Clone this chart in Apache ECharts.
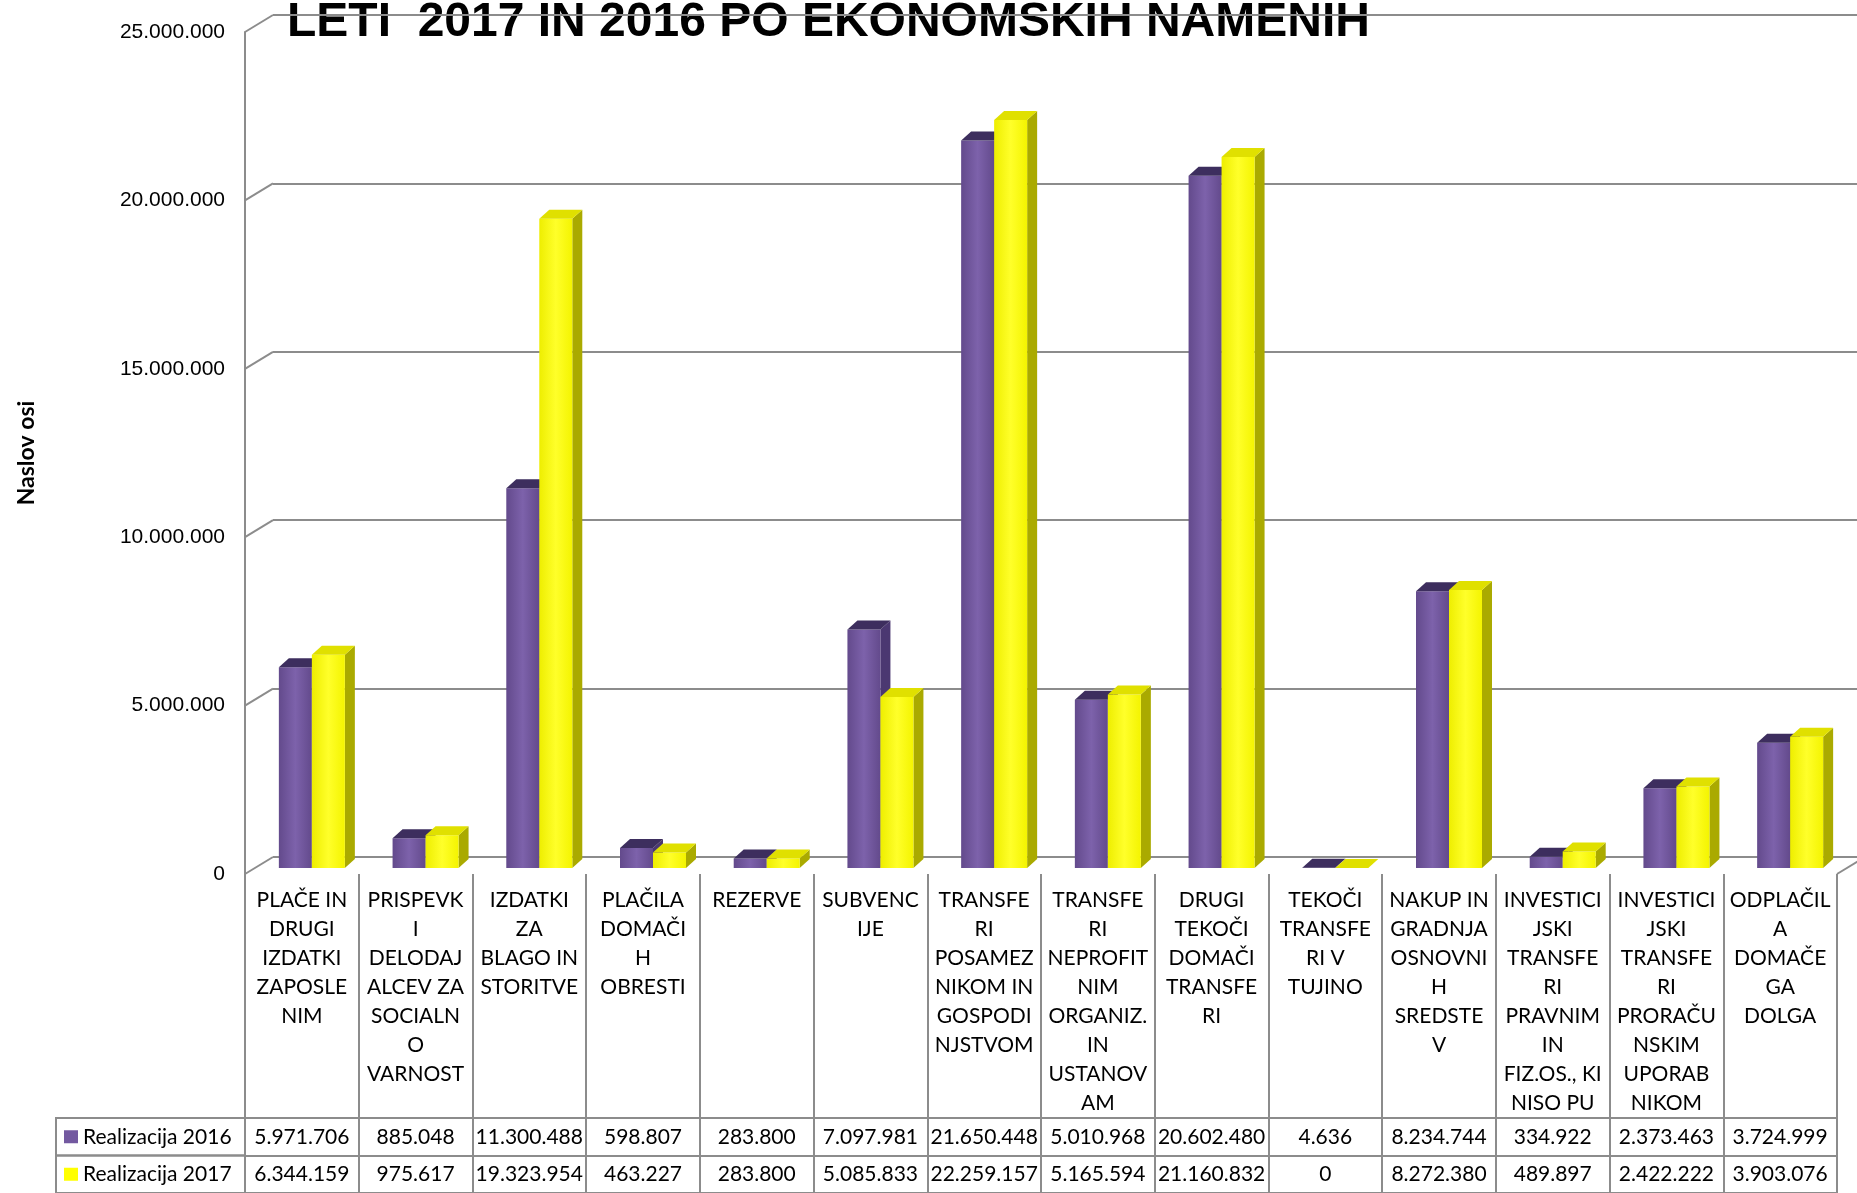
<!DOCTYPE html>
<html>
<head>
<meta charset="utf-8">
<title>Realizacija 2016 / 2017</title>
<script src="https://cdn.jsdelivr.net/npm/echarts@6/dist/echarts.min.js"></script>
<style>
    html, body { margin: 0; padding: 0; background: #fff; }
    #chart { width: 1857px; height: 1193px; }
</style>
</head>
<body>
<div id="chart"></div>
<script>
// podatki
const categories = [
    'PLAČE IN\nDRUGI\nIZDATKI\nZAPOSLE\nNIM',
    'PRISPEVK\nI\nDELODAJ\nALCEV ZA\nSOCIALN\nO\nVARNOST',
    'IZDATKI\nZA\nBLAGO IN\nSTORITVE',
    'PLAČILA\nDOMAČI\nH\nOBRESTI',
    'REZERVE',
    'SUBVENC\nIJE',
    'TRANSFE\nRI\nPOSAMEZ\nNIKOM IN\nGOSPODI\nNJSTVOM',
    'TRANSFE\nRI\nNEPROFIT\nNIM\nORGANIZ.\nIN\nUSTANOV\nAM',
    'DRUGI\nTEKOČI\nDOMAČI\nTRANSFE\nRI',
    'TEKOČI\nTRANSFE\nRI V\nTUJINO',
    'NAKUP IN\nGRADNJA\nOSNOVNI\nH\nSREDSTE\nV',
    'INVESTICI\nJSKI\nTRANSFE\nRI\nPRAVNIM\nIN\nFIZ.OS., KI\nNISO PU',
    'INVESTICI\nJSKI\nTRANSFE\nRI\nPRORAČU\nNSKIM\nUPORAB\nNIKOM',
    'ODPLAČIL\nA\nDOMAČE\nGA\nDOLGA'
];
const seriesNames = ['Realizacija 2016', 'Realizacija 2017'];
const real2016 = [5971706, 885048, 11300488, 598807, 283800, 7097981, 21650448, 5010968, 20602480, 4636, 8234744, 334922, 2373463, 3724999];
const real2017 = [6344159, 975617, 19323954, 463227, 283800, 5085833, 22259157, 5165594, 21160832, 0, 8272380, 489897, 2422222, 3903076];
const yMin = 0;
const yMax = 25000000;
const yStep = 5000000;
const yTicks = [0, 5000000, 10000000, 15000000, 20000000, 25000000];

const GRAY = '#8c8c8c';
const TXT = 'Lato';
const BAR_W = 33;
const DX = 10, DY = -9;          // globina stolpca
const WALL_X = 28, WALL_Y = 17;  // globina stene

const COLORS = [
    { front: ['#634a8c', '#7d62ab', '#634a8c'], side: '#4b3871', top: '#3d2e5e' },
    { front: ['#eeee00', '#ffff2a', '#f4f400'], side: '#aaaa00', top: '#e0e000' }
];

const fmt = v => String(v).replace(/\B(?=(\d{3})+(?!\d))/g, '.');

const myChart = echarts.init(document.getElementById('chart'), null, { renderer: 'canvas' });

function renderBar(s) {
    return function (params, api) {
        const i = api.value(0);
        const top = api.coord([i, api.value(1)]);
        const base = api.coord([i, 0]);
        const x0 = top[0] + (s - 1) * BAR_W;
        const x1 = x0 + BAR_W;
        const c = COLORS[s];
        return {
            type: 'group',
            children: [
                {
                    type: 'polygon',
                    shape: { points: [[x1, top[1]], [x1 + DX, top[1] + DY], [x1 + DX, base[1] + DY], [x1, base[1]]] },
                    style: { fill: c.side }
                },
                {
                    type: 'rect',
                    shape: { x: x0, y: top[1], width: BAR_W, height: base[1] - top[1] },
                    style: {
                        fill: new echarts.graphic.LinearGradient(0, 0, 1, 0, [
                            { offset: 0, color: c.front[0] },
                            { offset: 0.5, color: c.front[1] },
                            { offset: 1, color: c.front[2] }
                        ])
                    }
                },
                {
                    type: 'polygon',
                    shape: { points: [[x0, top[1]], [x1, top[1]], [x1 + DX, top[1] + DY], [x0 + DX, top[1] + DY]] },
                    style: { fill: c.top }
                }
            ]
        };
    };
}

const cellData = [];
real2016.forEach((v, i) => cellData.push([i, 0, v]));
real2017.forEach((v, i) => cellData.push([i, 1, v]));

let option = {
    backgroundColor: '#fff',
    animation: false,
    title: {
        text: 'LETI  2017 IN 2016 PO EKONOMSKIH NAMENIH',
        left: 282,
        top: -6,
        z: 0,
        textStyle: { fontFamily: 'Liberation Sans', fontWeight: 'bold', fontSize: 48, color: '#000' }
    },
    grid: [
        { left: 255, width: 1592, top: 28, height: 840 },   // stolpci
        { left: 245, width: 1592, top: 874, height: 244 },  // imena kategorij
        { left: 245, width: 1592, top: 1118, height: 78 },  // vrednosti
        { left: 273, right: 0, top: 15, height: 842 },      // zadnja stena
        { left: 245, width: 10, top: 32, height: 842 }      // sprednja os
    ],
    xAxis: [
        { gridIndex: 0, type: 'category', data: categories, show: false },
        {
            gridIndex: 1,
            type: 'category',
            data: categories,
            position: 'top',
            axisLine: { show: true, lineStyle: { color: GRAY, width: 2 } },
            axisTick: { show: false },
            axisLabel: {
                inside: true,
                interval: 0,
                margin: 12,
                verticalAlign: 'top',
                lineHeight: 29,
                fontFamily: TXT,
                fontSize: 21,
                color: '#000'
            },
            splitLine: { show: true, interval: 0, lineStyle: { color: GRAY, width: 2 } }
        },
        {
            gridIndex: 2,
            type: 'category',
            data: categories,
            axisLine: { show: false },
            axisTick: { show: false },
            axisLabel: { show: false },
            splitLine: { show: true, interval: 0, lineStyle: { color: GRAY, width: 2 } }
        },
        { gridIndex: 3, type: 'value', min: 0, max: 1, show: false },
        { gridIndex: 4, type: 'value', min: 0, max: 1, show: false }
    ],
    yAxis: [
        { gridIndex: 0, type: 'value', min: yMin, max: yMax, show: false },
        { gridIndex: 1, type: 'value', min: 0, max: 1, show: false },
        {
            gridIndex: 2,
            type: 'category',
            data: seriesNames,
            inverse: true,
            axisLine: { show: false },
            axisTick: { show: false },
            axisLabel: { show: false },
            splitLine: { show: true, lineStyle: { color: GRAY, width: 2 } }
        },
        {
            gridIndex: 3,
            type: 'value',
            min: yMin,
            max: yMax,
            interval: yStep,
            z: 1,
            axisLine: { show: false },
            axisTick: { show: false },
            axisLabel: { show: false },
            splitLine: { show: true, lineStyle: { color: GRAY, width: 2 } }
        },
        {
            gridIndex: 4,
            type: 'value',
            min: yMin,
            max: yMax,
            interval: yStep,
            name: 'Naslov osi',
            nameLocation: 'middle',
            nameRotate: 90,
            nameGap: 207,
            nameTextStyle: { fontFamily: TXT, fontWeight: 'bold', fontSize: 23, color: '#000' },
            axisLine: { show: true, lineStyle: { color: GRAY, width: 2 } },
            axisTick: { show: false },
            splitLine: { show: false },
            axisLabel: {
                margin: 20,
                fontFamily: 'Liberation Sans',
                fontSize: 21,
                color: '#000',
                formatter: v => fmt(v)
            }
        }
    ],
    series: [
        {
            name: 'stena',
            type: 'custom',
            xAxisIndex: 4,
            yAxisIndex: 4,
            silent: true,
            data: yTicks.map(v => [0, v]),
            renderItem: (params, api) => {
                const p = api.coord([0, api.value(1)]);
                return {
                    type: 'line',
                    shape: { x1: p[0], y1: p[1], x2: p[0] + WALL_X, y2: p[1] - WALL_Y },
                    style: { stroke: GRAY, lineWidth: 2 }
                };
            }
        },
        {
            name: 'tla',
            type: 'custom',
            xAxisIndex: 1,
            yAxisIndex: 1,
            silent: true,
            data: [[0, 1]],
            renderItem: (params, api) => {
                const cs = params.coordSys;
                const x = cs.x + cs.width;
                return {
                    type: 'line',
                    shape: { x1: x, y1: cs.y, x2: x + WALL_X, y2: cs.y - WALL_Y },
                    style: { stroke: GRAY, lineWidth: 2 }
                };
            }
        },
        {
            name: seriesNames[0],
            type: 'custom',
            xAxisIndex: 0,
            yAxisIndex: 0,
            z: 3,
            itemStyle: { color: '#7359a0' },
            data: real2016.map((v, i) => [i, v]),
            encode: { x: 0, y: 1 },
            renderItem: renderBar(0)
        },
        {
            name: seriesNames[1],
            type: 'custom',
            xAxisIndex: 0,
            yAxisIndex: 0,
            z: 4,
            itemStyle: { color: '#ffff00' },
            data: real2017.map((v, i) => [i, v]),
            encode: { x: 0, y: 1 },
            renderItem: renderBar(1)
        },
        {
            name: 'vrednosti',
            type: 'custom',
            xAxisIndex: 2,
            yAxisIndex: 2,
            data: cellData,
            encode: { x: 0, y: 1 },
            renderItem: (params, api) => {
                const p = api.coord([api.value(0), api.value(1)]);
                return {
                    type: 'text',
                    x: p[0],
                    y: p[1],
                    style: {
                        text: fmt(api.value(2)),
                        fill: '#000',
                        font: '21px ' + TXT,
                        align: 'center',
                        verticalAlign: 'middle'
                    }
                };
            }
        },
        {
            name: 'legenda',
            type: 'custom',
            xAxisIndex: 2,
            yAxisIndex: 2,
            data: [[0, 0], [0, 1]],
            encode: { x: 0, y: 1 },
            renderItem: (params, api) => {
                const row = api.value(1);
                const p = api.coord([0, row]);
                const h = api.size([0, 1])[1];
                const left = 56;
                const right = params.coordSys.x;
                return {
                    type: 'group',
                    children: [
                        {
                            type: 'rect',
                            shape: { x: left, y: p[1] - h / 2, width: right - left, height: h },
                            style: { fill: 'none', stroke: GRAY, lineWidth: 2 }
                        },
                        {
                            type: 'rect',
                            shape: { x: 64, y: p[1] - 6.5, width: 14, height: 13 },
                            style: { fill: row === 0 ? '#7359a0' : '#ffff00' }
                        },
                        {
                            type: 'text',
                            x: 83,
                            y: p[1],
                            style: {
                                text: seriesNames[row],
                                fill: '#000',
                                font: '21px ' + TXT,
                                align: 'left',
                                verticalAlign: 'middle'
                            }
                        }
                    ]
                };
            }
        }
    ]
};

myChart.setOption(option);
window.addEventListener('resize', myChart.resize);
</script>
</body>
</html>
